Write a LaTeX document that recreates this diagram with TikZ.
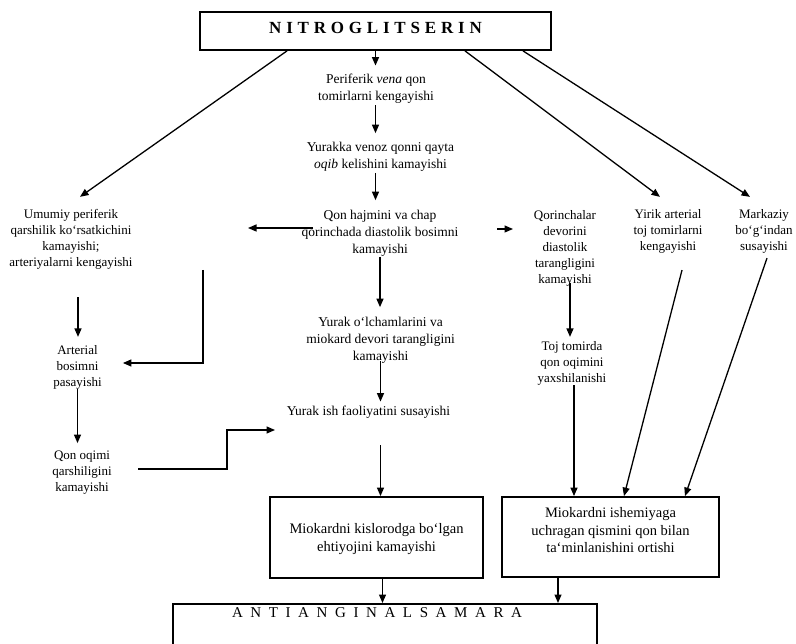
\documentclass[tikz,border=0pt]{standalone}
\usepackage{fontspec}
\setmainfont{Liberation Serif}
\usetikzlibrary{arrows.meta}
\newcommand\lgap{\hspace{4.8pt}}
\newcommand\mgap{\hspace{7.6pt}}
\begin{document}
\begin{tikzpicture}[x=1pt,y=-1pt,
  ctx/.style={align=center,font=\fontsize{13.5}{17}\selectfont,inner sep=0pt},
  stx/.style={align=center,font=\fontsize{13}{16}\selectfont,inner sep=0pt},
  boxn/.style={draw,line width=1.8pt,inner sep=0pt},
  btx/.style={align=center,font=\fontsize{14.5}{17.5}\selectfont,inner sep=0pt},
  arr/.style={line width=1.3pt,-{Triangle[length=8.5pt,width=7pt]}}]
\useasboundingbox (0,0) rectangle (796,644);
\clip (0,0) rectangle (796,644);
% title
\node[boxn,minimum width=351pt,minimum height=38pt,text height=11.5pt,text depth=6pt,
      font=\fontsize{17}{20}\selectfont\bfseries] (top) at (375.5,31)
  {N\lgap I\lgap T\lgap R\lgap O\lgap G\lgap L\lgap I\lgap T\lgap S\lgap E\lgap R\lgap I\lgap N};
% centre column
\node[ctx] (p1) at (376,88.5) {Periferik \textit{vena} qon\\tomirlarni kengayishi};
\node[ctx] (p2) at (380.5,157) {Yurakka venoz qonni qayta\\\textit{oqib} kelishini kamayishi};
\node[ctx] (p3) at (380,233.5) {Qon hajmini va chap\\qorinchada diastolik bosimni\\kamayishi};
\node[ctx] (p4) at (380.5,340.5) {Yurak o`lchamlarini va\\miokard devori tarangligini\\kamayishi};
\node[ctx] (p5) at (368.5,412) {Yurak ish faoliyatini susayishi};
% left column
\node[stx] (L1) at (71,239) {Umumiy periferik\\qarshilik ko`rsatkichini\\kamayishi;\\arteriyalarni kengayishi};
\node[stx] (L2) at (77.5,367) {Arterial\\bosimni\\pasayishi};
\node[stx] (L3) at (82,473) {Qon oqimi\\qarshiligini\\kamayishi};
% right columns
\node[stx] (R1) at (565,248) {Qorinchalar\\devorini\\diastolik\\tarangligini\\kamayishi};
\node[stx] (R2) at (572,363) {Toj tomirda\\qon oqimini\\yaxshilanishi};
\node[stx] (R3) at (668,231) {Yirik arterial\\toj tomirlarni\\kengayishi};
\node[stx] (R4) at (764,231) {Markaziy\\bo`g`indan\\susayishi};
% boxes
\node[boxn,minimum width=213pt,minimum height=81pt] (b1) at (376.5,537.5) {};
\node[btx] (b1t) at (376.5,539) {Miokardni kislorodga bo`lgan\\ehtiyojini kamayishi};
\node[boxn,minimum width=217pt,minimum height=80pt] (b2) at (610.5,537) {};
\node[btx] (b2t) at (610.5,530.5) {Miokardni ishemiyaga\\uchragan qismini qon bilan\\ta`minlanishini ortishi};
\node[boxn,minimum width=424pt,minimum height=80pt,anchor=north] (bot) at (385,603) {};
\node[inner sep=0pt,font=\fontsize{15}{18}\selectfont] (bott) at (377,613)
  {A\mgap N\mgap T\mgap I\mgap A\mgap N\mgap G\mgap I\mgap N\mgap A\mgap L\mgap S\mgap A\mgap M\mgap A\mgap R\mgap A};
% centre arrows
\draw[arr,shorten >=8pt] (top.south) -- (p1.north -| top.south);
\draw[arr,shorten <=2pt,shorten >=9pt] (p1.south -| top.south) -- (p2.north -| top.south);
\draw[arr,shorten <=1pt,shorten >=10pt] (p2.south -| top.south) -- (p3.north -| top.south);
\draw[arr,shorten >=10pt] (p3.south) -- (p4.north -| p3.south);
\draw[arr,shorten <=-3pt,shorten >=4pt] (p4.south) -- (p5.north -| p4.south);
\draw[arr,shorten <=27pt] (p5.south -| p4.south) -- (b1.north -| p4.south);
\draw[arr] ([xshift=6pt]b1.south) coordinate (b1s) -- (b1s |- bot.north);
\draw[arr] ([xshift=-52.5pt]b2.south) coordinate (b2s) -- (b2s |- bot.north);
% diagonals from title
\draw[arr] ([xshift=-88.5pt]top.south) -- ([shift={(9,-12)}]L1.north);
\draw[arr] ([xshift=89.5pt]top.south) -- ([shift={(-8,-12)}]R3.north);
\draw[arr] ([xshift=147.5pt]top.south) -- ([shift={(-14,-12)}]R4.north);
% left column arrows
\draw[arr,shorten >=8pt] ([shift={(7,28)}]L1.south) coordinate (l1s) -- (l1s |- L2.north);
\draw[arr,shorten >=8pt] (L2.south) -- (L2.south |- L3.north);
\coordinate (k1) at (203,270);
\draw[arr] (k1) |- ([shift={(21,-4)}]L2.east);
\coordinate (t1) at ([shift={(-93.5,18)}]p5.center);
\draw[arr] ([shift={(56,-4)}]L3.center) -| ([xshift=-48pt]t1) -- (t1);
% side arrows from p3
\coordinate (k2) at (248,228);
\draw[arr] ([shift={(-67,-5.5)}]p3.center) -- (k2);
\draw[arr] ([shift={(117,-4.5)}]p3.center) -- ([shift={(-52,-19)}]R1.center);
% right column arrows
\draw[arr,shorten <=-3pt,shorten >=4pt] ([xshift=5pt]R1.south) coordinate (r1s) -- (r1s |- R2.north);
\draw[arr] ([xshift=2pt]R2.south) coordinate (r2s) -- (r2s |- b2.north);
\draw[arr] ([shift={(14,17)}]R3.south) -- ([xshift=13.5pt]b2.north);
\draw[arr] ([shift={(3,5)}]R4.south) -- ([xshift=74.5pt]b2.north);
\end{tikzpicture}
\end{document}
